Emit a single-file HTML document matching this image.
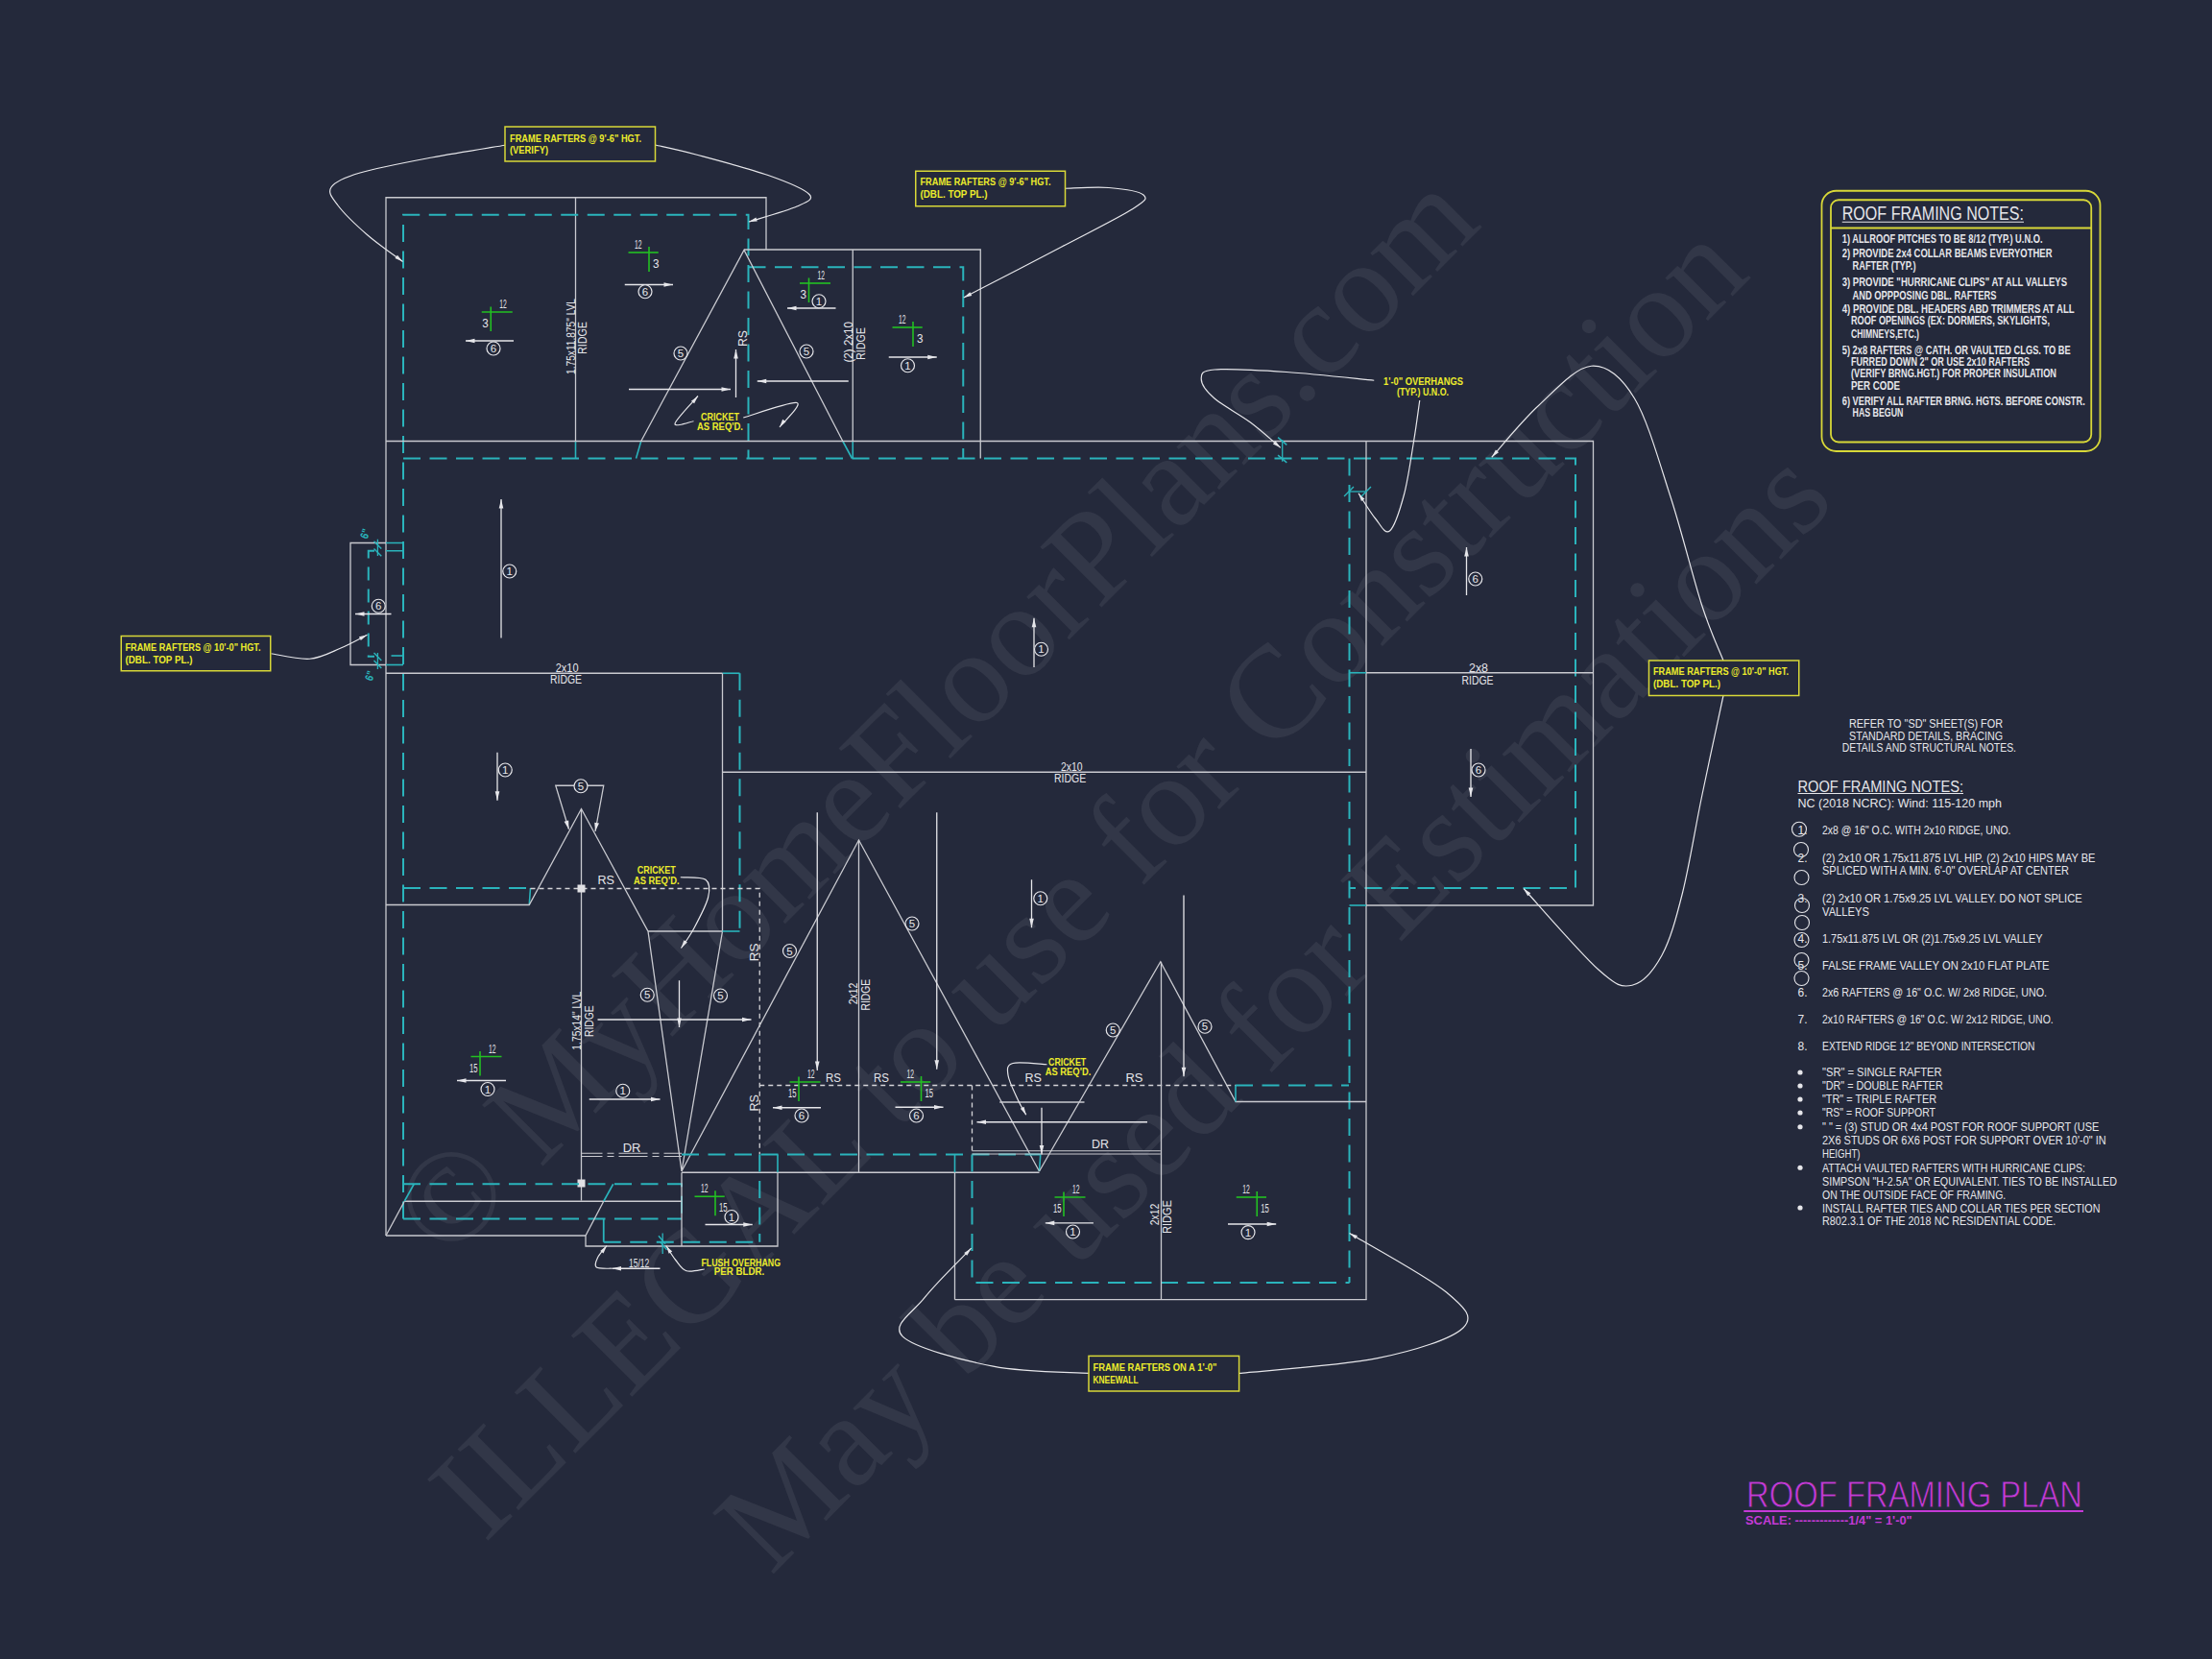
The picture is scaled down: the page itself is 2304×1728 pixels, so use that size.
<!DOCTYPE html><html><head><meta charset="utf-8"><style>html,body{margin:0;padding:0;background:#24293b;overflow:hidden}svg{display:block}text{font-family:"Liberation Sans",sans-serif}.wm{font-family:"Liberation Serif",serif}</style></head><body>
<svg width="2304" height="1728" viewBox="0 0 2304 1728">
<rect width="2304" height="1728" fill="#24293b"/>
<text class="wm" x="465" y="1315" font-size="137" fill="rgba(255,255,255,0.065)" transform="rotate(-45 465 1315)">© MyHomeFloorPlans.com</text>
<text class="wm" x="505" y="1608" font-size="137" fill="rgba(255,255,255,0.065)" transform="rotate(-45 505 1608)">ILLEGAL to use for Construction</text>
<text class="wm" x="803" y="1642" font-size="137" fill="rgba(255,255,255,0.065)" transform="rotate(-45.2 803 1642)">May be used for Estimations</text>
<path d="M402,1287 V205.75 H798 V260" fill="none" stroke="#c9cad0" stroke-width="1.3" />
<line x1="599.5" y1="205.75" x2="599.5" y2="459.5" stroke="#c9cad0" stroke-width="1.3" />
<line x1="599.5" y1="459.5" x2="599.5" y2="477.5" stroke="#2ab4bc" stroke-width="1.6" />
<path d="M420,1269.5 V223.75 H779.5 V477.5" fill="none" stroke="#2ab4bc" stroke-width="2.0" stroke-dasharray="18 9.5"/>
<path d="M775,260 H1021.25 V477.5" fill="none" stroke="#c9cad0" stroke-width="1.3" />
<line x1="888.25" y1="260" x2="888.25" y2="459.5" stroke="#c9cad0" stroke-width="1.3" />
<line x1="888.25" y1="459.5" x2="888.25" y2="477.5" stroke="#2ab4bc" stroke-width="1.6" />
<path d="M779.5,278.25 H1003.25 V477.5" fill="none" stroke="#2ab4bc" stroke-width="2.0" stroke-dasharray="18 9.5"/>
<path d="M667.75,459.5 L775,260.5 L877.8,459.5" fill="none" stroke="#c9cad0" stroke-width="1.3" />
<line x1="667.75" y1="459.5" x2="662.5" y2="477.5" stroke="#2ab4bc" stroke-width="1.6" />
<line x1="877.8" y1="459.5" x2="887.5" y2="477.5" stroke="#2ab4bc" stroke-width="1.6" />
<path d="M402,459.5 H1659.5 V943 H1423" fill="none" stroke="#c9cad0" stroke-width="1.3" />
<path d="M420,477.5 H1641 V925 H1405.5" fill="none" stroke="#2ab4bc" stroke-width="2.0" stroke-dasharray="18 9.5"/>
<path d="M1405.5,477.5 V1336" fill="none" stroke="#2ab4bc" stroke-width="2.0" stroke-dasharray="18 9.5"/>
<line x1="1423" y1="459.5" x2="1423" y2="1353.7" stroke="#c9cad0" stroke-width="1.3" />
<line x1="1405.5" y1="943" x2="1423" y2="943" stroke="#2ab4bc" stroke-width="1.6" />
<line x1="1423" y1="700.75" x2="1659.5" y2="700.75" stroke="#c9cad0" stroke-width="1.3" />
<line x1="1405.5" y1="700.75" x2="1423" y2="700.75" stroke="#2ab4bc" stroke-width="1.6" />
<path d="M402,565.5 H365 V692.5 H402" fill="none" stroke="#c9cad0" stroke-width="1.3" />
<path d="M402,565.5 H420 V573.75 H402" fill="none" stroke="#2ab4bc" stroke-width="1.6" />
<path d="M407.5,683 H420" fill="none" stroke="#2ab4bc" stroke-width="1.6" />
<path d="M402,692.5 H420" fill="none" stroke="#2ab4bc" stroke-width="1.6" />
<path d="M390,573.75 H383.75 V683.75 H390" fill="none" stroke="#2ab4bc" stroke-width="2" stroke-dasharray="14 9"/>
<line x1="402" y1="701.25" x2="752.5" y2="701.25" stroke="#c9cad0" stroke-width="1.3" />
<line x1="752.5" y1="701.25" x2="770.5" y2="701.25" stroke="#2ab4bc" stroke-width="1.6" />
<line x1="752.5" y1="701.25" x2="752.5" y2="970" stroke="#c9cad0" stroke-width="1.3" />
<path d="M770.5,701.25 V970" fill="none" stroke="#2ab4bc" stroke-width="2.0" stroke-dasharray="18 9.5"/>
<line x1="752.5" y1="804.25" x2="1423" y2="804.25" stroke="#c9cad0" stroke-width="1.3" />
<path d="M420,925 H552.5" fill="none" stroke="#2ab4bc" stroke-width="2.0" stroke-dasharray="18 9.5"/>
<line x1="552.5" y1="925" x2="551.25" y2="942.5" stroke="#2ab4bc" stroke-width="1.6" />
<path d="M402,942.5 H551.25 L605.5,842.5 L675,970 H752.5 L710,1220 L675,970" fill="none" stroke="#c9cad0" stroke-width="1.3" />
<line x1="752.5" y1="970" x2="770.5" y2="970" stroke="#2ab4bc" stroke-width="1.6" />
<line x1="605.5" y1="842.5" x2="605.5" y2="1250.5" stroke="#c9cad0" stroke-width="1.3" />
<path d="M552.5,925.5 H791.25 V1202.5" fill="none" stroke="#d4d4d8" stroke-width="1.3" stroke-dasharray="5 4"/>
<rect x="601.5" y="921.5" width="8" height="8" fill="#e0e0e4"/>
<rect x="601.5" y="1228.5" width="8" height="8" fill="#e0e0e4"/>
<path d="M592.5,863.75 L578.75,818.25 H628.75 L620,866" fill="none" stroke="#c9cad0" stroke-width="1.3" />
<path d="M592.50,863.75 L587.60,855.83 L592.19,854.44Z" fill="#e6e6ea"/>
<path d="M620.00,866.00 L619.26,856.71 L623.98,857.58Z" fill="#e6e6ea"/>
<path d="M710,1220 L894.5,875 L1082.5,1220" fill="none" stroke="#c9cad0" stroke-width="1.3" />
<line x1="894.5" y1="875" x2="894.5" y2="1221.25" stroke="#c9cad0" stroke-width="1.3" />
<line x1="710" y1="1221.25" x2="1082.5" y2="1221.25" stroke="#c9cad0" stroke-width="1.3" />
<path d="M710,1202.5 H1083.75" fill="none" stroke="#2ab4bc" stroke-width="2.0" stroke-dasharray="18 9.5"/>
<line x1="1083.75" y1="1202.5" x2="1082.5" y2="1220" stroke="#2ab4bc" stroke-width="1.6" />
<path d="M791.25,1202.5 V1293.75" fill="none" stroke="#2ab4bc" stroke-width="2.0" stroke-dasharray="18 9.5"/>
<line x1="810" y1="1202.5" x2="810" y2="1221.25" stroke="#2ab4bc" stroke-width="1.6" />
<path d="M810,1221.25 V1298 H610 V1287" fill="none" stroke="#c9cad0" stroke-width="1.3" />
<line x1="994.5" y1="1202.5" x2="994.5" y2="1221.25" stroke="#2ab4bc" stroke-width="1.6" />
<line x1="994.5" y1="1221.25" x2="994.5" y2="1353.7" stroke="#c9cad0" stroke-width="1.3" />
<path d="M1012.5,1202.5 V1336 H1405.6" fill="none" stroke="#2ab4bc" stroke-width="2.0" stroke-dasharray="18 9.5"/>
<path d="M994.5,1353.7 H1423.6" fill="none" stroke="#c9cad0" stroke-width="1.3" />
<path d="M791.25,1130.5 H1287" fill="none" stroke="#d4d4d8" stroke-width="1.3" stroke-dasharray="5 4"/>
<path d="M1012.5,1130.5 V1202.5" fill="none" stroke="#d4d4d8" stroke-width="1.3" stroke-dasharray="5 4"/>
<line x1="1041.25" y1="1148" x2="1129.5" y2="1148" stroke="#c9cad0" stroke-width="1.3" />
<path d="M1082.5,1220 L1208.75,1001.75 L1287,1147.5 H1423" fill="none" stroke="#c9cad0" stroke-width="1.3" />
<line x1="1209.5" y1="1001.75" x2="1209.5" y2="1353.7" stroke="#c9cad0" stroke-width="1.3" />
<path d="M1287,1130.5 H1405" fill="none" stroke="#2ab4bc" stroke-width="2.0" stroke-dasharray="18 9.5"/>
<line x1="1287" y1="1130.5" x2="1287" y2="1147.5" stroke="#2ab4bc" stroke-width="1.6" />
<path d="M605.5,1201.25 H710 M605.5,1204.5 H710" stroke="#c9cad0" stroke-width="1.1" stroke-dasharray="22 5 7 5 30 5 7 5 30"/>
<path d="M1012.5,1198.75 H1208.75 M1012.5,1202 H1208.75" fill="none" stroke="#c9cad0" stroke-width="1.1" />
<path d="M420,1233.25 H710 V1269.5" fill="none" stroke="#2ab4bc" stroke-width="2.0" stroke-dasharray="18 9.5"/>
<line x1="421.25" y1="1251.25" x2="710" y2="1251.25" stroke="#c9cad0" stroke-width="1.3" />
<path d="M420,1269.5 H710" fill="none" stroke="#2ab4bc" stroke-width="2.0" stroke-dasharray="18 9.5"/>
<line x1="431.25" y1="1233.25" x2="421.25" y2="1251.25" stroke="#2ab4bc" stroke-width="1.6" />
<line x1="421.25" y1="1251.25" x2="402" y2="1287" stroke="#c9cad0" stroke-width="1.3" />
<line x1="402" y1="1287" x2="610" y2="1287" stroke="#c9cad0" stroke-width="1.3" />
<line x1="638.75" y1="1233.25" x2="628.75" y2="1251.25" stroke="#2ab4bc" stroke-width="1.6" />
<line x1="628.75" y1="1251.25" x2="610" y2="1287" stroke="#c9cad0" stroke-width="1.3" />
<path d="M628.75,1269.5 V1293.75" fill="none" stroke="#2ab4bc" stroke-width="1.8" />
<path d="M628.75,1293.75 H791.25" fill="none" stroke="#2ab4bc" stroke-width="2.0" stroke-dasharray="18 9.5"/>
<line x1="710" y1="1221.25" x2="710" y2="1298" stroke="#c9cad0" stroke-width="1.3" />
<line x1="501.75" y1="325" x2="533.75" y2="325" stroke="#22c022" stroke-width="1.6" />
<line x1="511.25" y1="319.5" x2="511.25" y2="345" stroke="#22c022" stroke-width="1.6" />
<text x="520.25" y="321" font-size="12.5" fill="#e6e6ea" text-anchor="start" font-weight="normal" textLength="7.5" lengthAdjust="spacingAndGlyphs" >12</text>
<text x="508.75" y="341" font-size="12.5" fill="#e6e6ea" text-anchor="end" font-weight="normal" textLength="6.5" lengthAdjust="spacingAndGlyphs" >3</text>
<line x1="654.5" y1="263" x2="685.75" y2="263" stroke="#22c022" stroke-width="1.6" />
<line x1="676" y1="257" x2="676" y2="283" stroke="#22c022" stroke-width="1.6" />
<text x="661" y="259" font-size="12.5" fill="#e6e6ea" text-anchor="start" font-weight="normal" textLength="7.5" lengthAdjust="spacingAndGlyphs" >12</text>
<text x="680" y="279" font-size="12.5" fill="#e6e6ea" text-anchor="start" font-weight="normal" textLength="6.5" lengthAdjust="spacingAndGlyphs" >3</text>
<line x1="833.0" y1="295" x2="865.0" y2="295" stroke="#22c022" stroke-width="1.6" />
<line x1="842.5" y1="289.5" x2="842.5" y2="315" stroke="#22c022" stroke-width="1.6" />
<text x="851.5" y="291" font-size="12.5" fill="#e6e6ea" text-anchor="start" font-weight="normal" textLength="7.5" lengthAdjust="spacingAndGlyphs" >12</text>
<text x="840.0" y="311" font-size="12.5" fill="#e6e6ea" text-anchor="end" font-weight="normal" textLength="6.5" lengthAdjust="spacingAndGlyphs" >3</text>
<line x1="929.5" y1="341" x2="960.75" y2="341" stroke="#22c022" stroke-width="1.6" />
<line x1="951" y1="335" x2="951" y2="361" stroke="#22c022" stroke-width="1.6" />
<text x="936" y="337" font-size="12.5" fill="#e6e6ea" text-anchor="start" font-weight="normal" textLength="7.5" lengthAdjust="spacingAndGlyphs" >12</text>
<text x="955" y="357" font-size="12.5" fill="#e6e6ea" text-anchor="start" font-weight="normal" textLength="6.5" lengthAdjust="spacingAndGlyphs" >3</text>
<line x1="490.5" y1="1100.5" x2="522.5" y2="1100.5" stroke="#22c022" stroke-width="1.6" />
<line x1="500" y1="1095.0" x2="500" y2="1120.5" stroke="#22c022" stroke-width="1.6" />
<text x="509" y="1096.5" font-size="12.5" fill="#e6e6ea" text-anchor="start" font-weight="normal" textLength="7.5" lengthAdjust="spacingAndGlyphs" >12</text>
<text x="497.5" y="1116.5" font-size="12.5" fill="#e6e6ea" text-anchor="end" font-weight="normal" textLength="8.5" lengthAdjust="spacingAndGlyphs" >15</text>
<line x1="822.5" y1="1127" x2="854.5" y2="1127" stroke="#22c022" stroke-width="1.6" />
<line x1="832" y1="1121.5" x2="832" y2="1147" stroke="#22c022" stroke-width="1.6" />
<text x="841" y="1123" font-size="12.5" fill="#e6e6ea" text-anchor="start" font-weight="normal" textLength="7.5" lengthAdjust="spacingAndGlyphs" >12</text>
<text x="829.5" y="1143" font-size="12.5" fill="#e6e6ea" text-anchor="end" font-weight="normal" textLength="8.5" lengthAdjust="spacingAndGlyphs" >15</text>
<line x1="938.0" y1="1127" x2="969.25" y2="1127" stroke="#22c022" stroke-width="1.6" />
<line x1="959.5" y1="1121" x2="959.5" y2="1147" stroke="#22c022" stroke-width="1.6" />
<text x="944.5" y="1123" font-size="12.5" fill="#e6e6ea" text-anchor="start" font-weight="normal" textLength="7.5" lengthAdjust="spacingAndGlyphs" >12</text>
<text x="963.5" y="1143" font-size="12.5" fill="#e6e6ea" text-anchor="start" font-weight="normal" textLength="8.5" lengthAdjust="spacingAndGlyphs" >15</text>
<line x1="723.5" y1="1246.25" x2="754.75" y2="1246.25" stroke="#22c022" stroke-width="1.6" />
<line x1="745" y1="1240.25" x2="745" y2="1266.25" stroke="#22c022" stroke-width="1.6" />
<text x="730" y="1242.25" font-size="12.5" fill="#e6e6ea" text-anchor="start" font-weight="normal" textLength="7.5" lengthAdjust="spacingAndGlyphs" >12</text>
<text x="749" y="1262.25" font-size="12.5" fill="#e6e6ea" text-anchor="start" font-weight="normal" textLength="8.5" lengthAdjust="spacingAndGlyphs" >15</text>
<line x1="1098.5" y1="1247" x2="1130.5" y2="1247" stroke="#22c022" stroke-width="1.6" />
<line x1="1108" y1="1241.5" x2="1108" y2="1267" stroke="#22c022" stroke-width="1.6" />
<text x="1117" y="1243" font-size="12.5" fill="#e6e6ea" text-anchor="start" font-weight="normal" textLength="7.5" lengthAdjust="spacingAndGlyphs" >12</text>
<text x="1105.5" y="1263" font-size="12.5" fill="#e6e6ea" text-anchor="end" font-weight="normal" textLength="8.5" lengthAdjust="spacingAndGlyphs" >15</text>
<line x1="1287.75" y1="1247" x2="1319.0" y2="1247" stroke="#22c022" stroke-width="1.6" />
<line x1="1309.25" y1="1241" x2="1309.25" y2="1267" stroke="#22c022" stroke-width="1.6" />
<text x="1294.25" y="1243" font-size="12.5" fill="#e6e6ea" text-anchor="start" font-weight="normal" textLength="7.5" lengthAdjust="spacingAndGlyphs" >12</text>
<text x="1313.25" y="1263" font-size="12.5" fill="#e6e6ea" text-anchor="start" font-weight="normal" textLength="8.5" lengthAdjust="spacingAndGlyphs" >15</text>
<line x1="535" y1="355" x2="485" y2="355" stroke="#e6e6ea" stroke-width="1.3" />
<path d="M485.00,355.00 L494.50,352.70 L494.50,357.30Z" fill="#e6e6ea"/>
<line x1="650.75" y1="296.5" x2="701" y2="296.5" stroke="#e6e6ea" stroke-width="1.3" />
<path d="M701.00,296.50 L691.50,298.80 L691.50,294.20Z" fill="#e6e6ea"/>
<line x1="870.5" y1="321" x2="820" y2="321" stroke="#e6e6ea" stroke-width="1.3" />
<path d="M820.00,321.00 L829.50,318.70 L829.50,323.30Z" fill="#e6e6ea"/>
<line x1="925.75" y1="372" x2="975.75" y2="372" stroke="#e6e6ea" stroke-width="1.3" />
<path d="M975.75,372.00 L966.25,374.30 L966.25,369.70Z" fill="#e6e6ea"/>
<line x1="766.5" y1="414" x2="766.5" y2="364" stroke="#e6e6ea" stroke-width="1.3" />
<path d="M766.50,364.00 L768.80,373.50 L764.20,373.50Z" fill="#e6e6ea"/>
<line x1="655" y1="405.5" x2="761" y2="405.5" stroke="#e6e6ea" stroke-width="1.3" />
<path d="M761.00,405.50 L751.50,407.80 L751.50,403.20Z" fill="#e6e6ea"/>
<line x1="883.75" y1="397" x2="788.75" y2="397" stroke="#e6e6ea" stroke-width="1.3" />
<path d="M788.75,397.00 L798.25,394.70 L798.25,399.30Z" fill="#e6e6ea"/>
<line x1="522" y1="664.5" x2="522" y2="520" stroke="#e6e6ea" stroke-width="1.3" />
<path d="M522.00,520.00 L524.30,529.50 L519.70,529.50Z" fill="#e6e6ea"/>
<line x1="407.5" y1="639.5" x2="370" y2="639.5" stroke="#e6e6ea" stroke-width="1.3" />
<path d="M370.00,639.50 L379.50,637.20 L379.50,641.80Z" fill="#e6e6ea"/>
<line x1="518" y1="783.75" x2="518" y2="833.75" stroke="#e6e6ea" stroke-width="1.3" />
<path d="M518.00,833.75 L515.70,824.25 L520.30,824.25Z" fill="#e6e6ea"/>
<line x1="1077" y1="695" x2="1077" y2="643.75" stroke="#e6e6ea" stroke-width="1.3" />
<path d="M1077.00,643.75 L1079.30,653.25 L1074.70,653.25Z" fill="#e6e6ea"/>
<line x1="1527.5" y1="620" x2="1527.5" y2="570" stroke="#e6e6ea" stroke-width="1.3" />
<path d="M1527.50,570.00 L1529.80,579.50 L1525.20,579.50Z" fill="#e6e6ea"/>
<line x1="1532" y1="780" x2="1532" y2="830" stroke="#e6e6ea" stroke-width="1.3" />
<path d="M1532.00,830.00 L1529.70,820.50 L1534.30,820.50Z" fill="#e6e6ea"/>
<line x1="707.5" y1="1021.25" x2="707.5" y2="1070" stroke="#e6e6ea" stroke-width="1.3" />
<path d="M707.50,1070.00 L705.20,1060.50 L709.80,1060.50Z" fill="#e6e6ea"/>
<line x1="622.5" y1="1062" x2="782.5" y2="1062" stroke="#e6e6ea" stroke-width="1.3" />
<path d="M782.50,1062.00 L773.00,1064.30 L773.00,1059.70Z" fill="#e6e6ea"/>
<line x1="527" y1="1125.5" x2="476" y2="1125.5" stroke="#e6e6ea" stroke-width="1.3" />
<path d="M476.00,1125.50 L485.50,1123.20 L485.50,1127.80Z" fill="#e6e6ea"/>
<line x1="613.75" y1="1145" x2="687.5" y2="1145" stroke="#e6e6ea" stroke-width="1.3" />
<path d="M687.50,1145.00 L678.00,1147.30 L678.00,1142.70Z" fill="#e6e6ea"/>
<line x1="851.25" y1="846.25" x2="851.25" y2="1115" stroke="#e6e6ea" stroke-width="1.3" />
<path d="M851.25,1115.00 L848.95,1105.50 L853.55,1105.50Z" fill="#e6e6ea"/>
<line x1="975.75" y1="846.25" x2="975.75" y2="1113.75" stroke="#e6e6ea" stroke-width="1.3" />
<path d="M975.75,1113.75 L973.45,1104.25 L978.05,1104.25Z" fill="#e6e6ea"/>
<line x1="855" y1="1153.75" x2="805" y2="1153.75" stroke="#e6e6ea" stroke-width="1.3" />
<path d="M805.00,1153.75 L814.50,1151.45 L814.50,1156.05Z" fill="#e6e6ea"/>
<line x1="932.5" y1="1153.25" x2="982.5" y2="1153.25" stroke="#e6e6ea" stroke-width="1.3" />
<path d="M982.50,1153.25 L973.00,1155.55 L973.00,1150.95Z" fill="#e6e6ea"/>
<line x1="1074.5" y1="916.25" x2="1074.5" y2="966.25" stroke="#e6e6ea" stroke-width="1.3" />
<path d="M1074.50,966.25 L1072.20,956.75 L1076.80,956.75Z" fill="#e6e6ea"/>
<line x1="1233" y1="932.5" x2="1233" y2="1121.25" stroke="#e6e6ea" stroke-width="1.3" />
<path d="M1233.00,1121.25 L1230.70,1111.75 L1235.30,1111.75Z" fill="#e6e6ea"/>
<line x1="1195" y1="1168.75" x2="1017.5" y2="1168.75" stroke="#e6e6ea" stroke-width="1.3" />
<path d="M1017.50,1168.75 L1027.00,1166.45 L1027.00,1171.05Z" fill="#e6e6ea"/>
<line x1="1085" y1="1153.75" x2="1085" y2="1202.5" stroke="#e6e6ea" stroke-width="1.3" />
<path d="M1085.00,1202.50 L1082.70,1193.00 L1087.30,1193.00Z" fill="#e6e6ea"/>
<line x1="734.5" y1="1275.5" x2="783.75" y2="1275.5" stroke="#e6e6ea" stroke-width="1.3" />
<path d="M783.75,1275.50 L774.25,1277.80 L774.25,1273.20Z" fill="#e6e6ea"/>
<line x1="687.5" y1="1321.25" x2="637.5" y2="1321.25" stroke="#e6e6ea" stroke-width="1.3" />
<path d="M637.50,1321.25 L647.00,1318.95 L647.00,1323.55Z" fill="#e6e6ea"/>
<line x1="1138.9" y1="1273.9" x2="1088.8" y2="1273.9" stroke="#e6e6ea" stroke-width="1.3" />
<path d="M1088.80,1273.90 L1098.30,1271.60 L1098.30,1276.20Z" fill="#e6e6ea"/>
<line x1="1279" y1="1275" x2="1329.2" y2="1275" stroke="#e6e6ea" stroke-width="1.3" />
<path d="M1329.20,1275.00 L1319.70,1277.30 L1319.70,1272.70Z" fill="#e6e6ea"/>
<circle cx="514" cy="363" r="7" fill="#24293b" stroke="#e6e6ea" stroke-width="1.2"/>
<text x="514" y="367.2" font-size="11.5" fill="#e6e6ea" text-anchor="middle" font-weight="normal" >6</text>
<circle cx="672" cy="303.75" r="7" fill="#24293b" stroke="#e6e6ea" stroke-width="1.2"/>
<text x="672" y="307.95" font-size="11.5" fill="#e6e6ea" text-anchor="middle" font-weight="normal" >6</text>
<circle cx="853" cy="313.75" r="7" fill="#24293b" stroke="#e6e6ea" stroke-width="1.2"/>
<text x="853" y="317.95" font-size="11.5" fill="#e6e6ea" text-anchor="middle" font-weight="normal" >1</text>
<circle cx="945.5" cy="380.75" r="7" fill="#24293b" stroke="#e6e6ea" stroke-width="1.2"/>
<text x="945.5" y="384.95" font-size="11.5" fill="#e6e6ea" text-anchor="middle" font-weight="normal" >1</text>
<circle cx="530.75" cy="595" r="7" fill="#24293b" stroke="#e6e6ea" stroke-width="1.2"/>
<text x="530.75" y="599.2" font-size="11.5" fill="#e6e6ea" text-anchor="middle" font-weight="normal" >1</text>
<circle cx="394.25" cy="631.25" r="7" fill="#24293b" stroke="#e6e6ea" stroke-width="1.2"/>
<text x="394.25" y="635.45" font-size="11.5" fill="#e6e6ea" text-anchor="middle" font-weight="normal" >6</text>
<circle cx="526.25" cy="802" r="7" fill="#24293b" stroke="#e6e6ea" stroke-width="1.2"/>
<text x="526.25" y="806.2" font-size="11.5" fill="#e6e6ea" text-anchor="middle" font-weight="normal" >1</text>
<circle cx="1084.5" cy="676.25" r="7" fill="#24293b" stroke="#e6e6ea" stroke-width="1.2"/>
<text x="1084.5" y="680.45" font-size="11.5" fill="#e6e6ea" text-anchor="middle" font-weight="normal" >1</text>
<circle cx="1536.75" cy="603" r="7" fill="#24293b" stroke="#e6e6ea" stroke-width="1.2"/>
<text x="1536.75" y="607.2" font-size="11.5" fill="#e6e6ea" text-anchor="middle" font-weight="normal" >6</text>
<circle cx="1540" cy="802" r="7" fill="#24293b" stroke="#e6e6ea" stroke-width="1.2"/>
<text x="1540" y="806.2" font-size="11.5" fill="#e6e6ea" text-anchor="middle" font-weight="normal" >6</text>
<circle cx="508" cy="1134.5" r="7" fill="#24293b" stroke="#e6e6ea" stroke-width="1.2"/>
<text x="508" y="1138.7" font-size="11.5" fill="#e6e6ea" text-anchor="middle" font-weight="normal" >1</text>
<circle cx="648.75" cy="1136.25" r="7" fill="#24293b" stroke="#e6e6ea" stroke-width="1.2"/>
<text x="648.75" y="1140.45" font-size="11.5" fill="#e6e6ea" text-anchor="middle" font-weight="normal" >1</text>
<circle cx="835" cy="1162" r="7" fill="#24293b" stroke="#e6e6ea" stroke-width="1.2"/>
<text x="835" y="1166.2" font-size="11.5" fill="#e6e6ea" text-anchor="middle" font-weight="normal" >6</text>
<circle cx="954.5" cy="1162" r="7" fill="#24293b" stroke="#e6e6ea" stroke-width="1.2"/>
<text x="954.5" y="1166.2" font-size="11.5" fill="#e6e6ea" text-anchor="middle" font-weight="normal" >6</text>
<circle cx="1083.75" cy="935.75" r="7" fill="#24293b" stroke="#e6e6ea" stroke-width="1.2"/>
<text x="1083.75" y="939.95" font-size="11.5" fill="#e6e6ea" text-anchor="middle" font-weight="normal" >1</text>
<circle cx="762" cy="1267.5" r="7" fill="#24293b" stroke="#e6e6ea" stroke-width="1.2"/>
<text x="762" y="1271.7" font-size="11.5" fill="#e6e6ea" text-anchor="middle" font-weight="normal" >1</text>
<circle cx="1117.5" cy="1283" r="7" fill="#24293b" stroke="#e6e6ea" stroke-width="1.2"/>
<text x="1117.5" y="1287.2" font-size="11.5" fill="#e6e6ea" text-anchor="middle" font-weight="normal" >1</text>
<circle cx="1300" cy="1283.6" r="7" fill="#24293b" stroke="#e6e6ea" stroke-width="1.2"/>
<text x="1300" y="1287.8" font-size="11.5" fill="#e6e6ea" text-anchor="middle" font-weight="normal" >1</text>
<circle cx="709" cy="368" r="7" fill="#24293b" stroke="#e6e6ea" stroke-width="1.2"/>
<text x="709" y="372.2" font-size="11.5" fill="#e6e6ea" text-anchor="middle" font-weight="normal" >5</text>
<circle cx="840" cy="366" r="7" fill="#24293b" stroke="#e6e6ea" stroke-width="1.2"/>
<text x="840" y="370.2" font-size="11.5" fill="#e6e6ea" text-anchor="middle" font-weight="normal" >5</text>
<circle cx="605" cy="818.75" r="7" fill="#24293b" stroke="#e6e6ea" stroke-width="1.2"/>
<text x="605" y="822.95" font-size="11.5" fill="#e6e6ea" text-anchor="middle" font-weight="normal" >5</text>
<circle cx="674.25" cy="1036.25" r="7" fill="#24293b" stroke="#e6e6ea" stroke-width="1.2"/>
<text x="674.25" y="1040.45" font-size="11.5" fill="#e6e6ea" text-anchor="middle" font-weight="normal" >5</text>
<circle cx="750.5" cy="1037" r="7" fill="#24293b" stroke="#e6e6ea" stroke-width="1.2"/>
<text x="750.5" y="1041.2" font-size="11.5" fill="#e6e6ea" text-anchor="middle" font-weight="normal" >5</text>
<circle cx="822.5" cy="990.5" r="7" fill="#24293b" stroke="#e6e6ea" stroke-width="1.2"/>
<text x="822.5" y="994.7" font-size="11.5" fill="#e6e6ea" text-anchor="middle" font-weight="normal" >5</text>
<circle cx="950" cy="962" r="7" fill="#24293b" stroke="#e6e6ea" stroke-width="1.2"/>
<text x="950" y="966.2" font-size="11.5" fill="#e6e6ea" text-anchor="middle" font-weight="normal" >5</text>
<circle cx="1159.25" cy="1073" r="7" fill="#24293b" stroke="#e6e6ea" stroke-width="1.2"/>
<text x="1159.25" y="1077.2" font-size="11.5" fill="#e6e6ea" text-anchor="middle" font-weight="normal" >5</text>
<circle cx="1255" cy="1069.25" r="7" fill="#24293b" stroke="#e6e6ea" stroke-width="1.2"/>
<text x="1255" y="1073.45" font-size="11.5" fill="#e6e6ea" text-anchor="middle" font-weight="normal" >5</text>
<text x="599" y="390" font-size="12.5" fill="#e6e6ea" text-anchor="start" font-weight="normal" textLength="79" lengthAdjust="spacingAndGlyphs" transform="rotate(-90 599 390)" >1.75x11.875&quot; LVL</text>
<text x="611" y="369" font-size="12.5" fill="#e6e6ea" text-anchor="start" font-weight="normal" textLength="34" lengthAdjust="spacingAndGlyphs" transform="rotate(-90 611 369)" >RIDGE</text>
<text x="777.5" y="361" font-size="12.5" fill="#e6e6ea" text-anchor="start" font-weight="normal" textLength="17" lengthAdjust="spacingAndGlyphs" transform="rotate(-90 777.5 361)" >RS</text>
<text x="888" y="377.5" font-size="12.5" fill="#e6e6ea" text-anchor="start" font-weight="normal" textLength="42.5" lengthAdjust="spacingAndGlyphs" transform="rotate(-90 888 377.5)" >(2) 2x10</text>
<text x="900.5" y="375" font-size="12.5" fill="#e6e6ea" text-anchor="start" font-weight="normal" textLength="34" lengthAdjust="spacingAndGlyphs" transform="rotate(-90 900.5 375)" >RIDGE</text>
<text x="604.5" y="1093.75" font-size="12.5" fill="#e6e6ea" text-anchor="start" font-weight="normal" textLength="61" lengthAdjust="spacingAndGlyphs" transform="rotate(-90 604.5 1093.75)" >1.75x14&quot; LVL</text>
<text x="617.5" y="1080" font-size="12.5" fill="#e6e6ea" text-anchor="start" font-weight="normal" textLength="32.5" lengthAdjust="spacingAndGlyphs" transform="rotate(-90 617.5 1080)" >RIDGE</text>
<text x="790" y="1001.25" font-size="12.5" fill="#e6e6ea" text-anchor="start" font-weight="normal" textLength="18.75" lengthAdjust="spacingAndGlyphs" transform="rotate(-90 790 1001.25)" >RS</text>
<text x="892.5" y="1046.25" font-size="12.5" fill="#e6e6ea" text-anchor="start" font-weight="normal" textLength="22.5" lengthAdjust="spacingAndGlyphs" transform="rotate(-90 892.5 1046.25)" >2x12</text>
<text x="905.5" y="1052.5" font-size="12.5" fill="#e6e6ea" text-anchor="start" font-weight="normal" textLength="32.5" lengthAdjust="spacingAndGlyphs" transform="rotate(-90 905.5 1052.5)" >RIDGE</text>
<text x="789.5" y="1157.5" font-size="12.5" fill="#e6e6ea" text-anchor="start" font-weight="normal" textLength="17.5" lengthAdjust="spacingAndGlyphs" transform="rotate(-90 789.5 1157.5)" >RS</text>
<text x="1207" y="1276.25" font-size="12.5" fill="#e6e6ea" text-anchor="start" font-weight="normal" textLength="22.5" lengthAdjust="spacingAndGlyphs" transform="rotate(-90 1207 1276.25)" >2x12</text>
<text x="1219.5" y="1285" font-size="12.5" fill="#e6e6ea" text-anchor="start" font-weight="normal" textLength="35" lengthAdjust="spacingAndGlyphs" transform="rotate(-90 1219.5 1285)" >RIDGE</text>
<text x="578.75" y="699.5" font-size="12.5" fill="#e6e6ea" text-anchor="start" font-weight="normal" textLength="23.75" lengthAdjust="spacingAndGlyphs" >2x10</text>
<text x="573" y="712" font-size="12.5" fill="#e6e6ea" text-anchor="start" font-weight="normal" textLength="33" lengthAdjust="spacingAndGlyphs" >RIDGE</text>
<text x="1105" y="802.5" font-size="12.5" fill="#e6e6ea" text-anchor="start" font-weight="normal" textLength="22.5" lengthAdjust="spacingAndGlyphs" >2x10</text>
<text x="1098" y="815" font-size="12.5" fill="#e6e6ea" text-anchor="start" font-weight="normal" textLength="33.25" lengthAdjust="spacingAndGlyphs" >RIDGE</text>
<text x="1530" y="700" font-size="12.5" fill="#e6e6ea" text-anchor="start" font-weight="normal" textLength="20" lengthAdjust="spacingAndGlyphs" >2x8</text>
<text x="1522.5" y="712.5" font-size="12.5" fill="#e6e6ea" text-anchor="start" font-weight="normal" textLength="33" lengthAdjust="spacingAndGlyphs" >RIDGE</text>
<text x="622.5" y="921.25" font-size="12.5" fill="#e6e6ea" text-anchor="start" font-weight="normal" textLength="17.5" lengthAdjust="spacingAndGlyphs" >RS</text>
<text x="860" y="1127" font-size="12.5" fill="#e6e6ea" text-anchor="start" font-weight="normal" textLength="16" lengthAdjust="spacingAndGlyphs" >RS</text>
<text x="910" y="1127" font-size="12.5" fill="#e6e6ea" text-anchor="start" font-weight="normal" textLength="16" lengthAdjust="spacingAndGlyphs" >RS</text>
<text x="1067.5" y="1127" font-size="12.5" fill="#e6e6ea" text-anchor="start" font-weight="normal" textLength="17.5" lengthAdjust="spacingAndGlyphs" >RS</text>
<text x="1172.5" y="1127" font-size="12.5" fill="#e6e6ea" text-anchor="start" font-weight="normal" textLength="18" lengthAdjust="spacingAndGlyphs" >RS</text>
<text x="648.75" y="1200" font-size="12.5" fill="#e6e6ea" text-anchor="start" font-weight="normal" textLength="18.75" lengthAdjust="spacingAndGlyphs" >DR</text>
<text x="1137" y="1196.25" font-size="12.5" fill="#e6e6ea" text-anchor="start" font-weight="normal" textLength="18" lengthAdjust="spacingAndGlyphs" >DR</text>
<text x="655" y="1319.5" font-size="12.5" fill="#e6e6ea" text-anchor="start" font-weight="normal" textLength="21.25" lengthAdjust="spacingAndGlyphs" >15/12</text>
<text x="730" y="437.5" font-size="11.5" fill="#ecec2c" text-anchor="start" font-weight="bold" textLength="40" lengthAdjust="spacingAndGlyphs" >CRICKET</text>
<text x="726" y="447.5" font-size="11.5" fill="#ecec2c" text-anchor="start" font-weight="bold" textLength="48" lengthAdjust="spacingAndGlyphs" >AS REQ'D.</text>
<text x="663.75" y="910" font-size="11.5" fill="#ecec2c" text-anchor="start" font-weight="bold" textLength="40" lengthAdjust="spacingAndGlyphs" >CRICKET</text>
<text x="660" y="920.75" font-size="11.5" fill="#ecec2c" text-anchor="start" font-weight="bold" textLength="47.5" lengthAdjust="spacingAndGlyphs" >AS REQ'D.</text>
<text x="1092" y="1110" font-size="11.5" fill="#ecec2c" text-anchor="start" font-weight="bold" textLength="39.25" lengthAdjust="spacingAndGlyphs" >CRICKET</text>
<text x="1088.75" y="1120" font-size="11.5" fill="#ecec2c" text-anchor="start" font-weight="bold" textLength="47.5" lengthAdjust="spacingAndGlyphs" >AS REQ'D.</text>
<text x="1441" y="401" font-size="11.5" fill="#ecec2c" text-anchor="start" font-weight="bold" textLength="83" lengthAdjust="spacingAndGlyphs" >1'-0&quot; OVERHANGS</text>
<text x="1455" y="412" font-size="11.5" fill="#ecec2c" text-anchor="start" font-weight="bold" textLength="54" lengthAdjust="spacingAndGlyphs" >(TYP.) U.N.O.</text>
<text x="730.5" y="1318.75" font-size="11.5" fill="#ecec2c" text-anchor="start" font-weight="bold" textLength="82.5" lengthAdjust="spacingAndGlyphs" >FLUSH OVERHANG</text>
<text x="743.75" y="1328" font-size="11.5" fill="#ecec2c" text-anchor="start" font-weight="bold" textLength="52.5" lengthAdjust="spacingAndGlyphs" >PER BLDR.</text>
<path d="M526.00,151.25 C513.33,153.38 475.17,159.21 450.00,164.00 C424.83,168.79 392.50,174.83 375.00,180.00 C357.50,185.17 348.83,189.33 345.00,195.00 C341.17,200.67 345.67,205.67 352.00,214.00 C358.33,222.33 371.75,235.25 383.00,245.00 C394.25,254.75 413.42,267.92 419.50,272.50" fill="none" stroke="#e6e6ea" stroke-width="1.2" />
<path d="M419.50,272.50 L411.45,269.06 L413.97,265.71Z" fill="#e6e6ea"/>
<path d="M682.50,151.00 C689.58,152.67 705.42,155.75 725.00,161.00 C744.58,166.25 780.33,175.58 800.00,182.50 C819.67,189.42 838.00,197.08 843.00,202.50 C848.00,207.92 840.50,210.25 830.00,215.00 C819.50,219.75 788.33,228.33 780.00,231.00" fill="none" stroke="#e6e6ea" stroke-width="1.2" />
<path d="M780.00,231.00 L787.46,226.41 L788.74,230.41Z" fill="#e6e6ea"/>
<path d="M1109.50,196.25 C1117.08,196.12 1141.42,194.38 1155.00,195.50 C1168.58,196.62 1186.83,199.33 1191.00,203.00 C1195.17,206.67 1194.33,208.42 1180.00,217.50 C1165.67,226.58 1134.38,242.08 1105.00,257.50 C1075.62,272.92 1020.62,301.25 1003.75,310.00" fill="none" stroke="#e6e6ea" stroke-width="1.2" />
<path d="M1003.75,310.00 L1010.33,304.22 L1012.26,307.95Z" fill="#e6e6ea"/>
<path d="M1431.25,396.25 C1416.04,394.79 1367.71,389.38 1340.00,387.50 C1312.29,385.62 1279.79,383.75 1265.00,385.00 C1250.21,386.25 1251.25,390.00 1251.25,395.00 C1251.25,400.00 1256.46,407.50 1265.00,415.00 C1273.54,422.50 1291.04,431.46 1302.50,440.00 C1313.96,448.54 1328.54,461.88 1333.75,466.25" fill="none" stroke="#e6e6ea" stroke-width="1.2" />
<path d="M1333.75,466.25 L1325.89,462.39 L1328.59,459.17Z" fill="#e6e6ea"/>
<path d="M1478.75,417.00 C1477.71,424.17 1475.21,443.67 1472.50,460.00 C1469.79,476.33 1466.67,499.50 1462.50,515.00 C1458.33,530.50 1452.50,548.83 1447.50,553.00 C1442.50,557.17 1437.92,546.54 1432.50,540.00 C1427.08,533.46 1417.92,518.12 1415.00,513.75" fill="none" stroke="#e6e6ea" stroke-width="1.2" />
<path d="M1415.00,513.75 L1421.46,519.66 L1417.97,521.99Z" fill="#e6e6ea"/>
<path d="M1795.00,688.00 C1791.25,678.33 1781.67,658.42 1772.50,630.00 C1763.33,601.58 1751.67,553.33 1740.00,517.50 C1728.33,481.67 1716.25,437.71 1702.50,415.00 C1688.75,392.29 1674.17,380.00 1657.50,381.25 C1640.83,382.50 1619.79,406.67 1602.50,422.50 C1585.21,438.33 1561.88,467.29 1553.75,476.25" fill="none" stroke="#e6e6ea" stroke-width="1.2" />
<path d="M1553.75,476.25 L1557.90,468.54 L1561.02,471.36Z" fill="#e6e6ea"/>
<path d="M1795.00,724.50 C1791.25,742.08 1779.58,795.75 1772.50,830.00 C1765.42,864.25 1759.42,902.50 1752.50,930.00 C1745.58,957.50 1739.75,978.96 1731.00,995.00 C1722.25,1011.04 1711.00,1023.75 1700.00,1026.25 C1689.00,1028.75 1683.83,1026.79 1665.00,1010.00 C1646.17,993.21 1600.00,939.58 1587.00,925.50" fill="none" stroke="#e6e6ea" stroke-width="1.2" />
<path d="M1587.00,925.50 L1594.31,930.32 L1591.22,933.17Z" fill="#e6e6ea"/>
<path d="M1134.00,1430.40 C1117.42,1429.20 1066.83,1429.63 1034.50,1423.20 C1002.17,1416.77 951.92,1403.72 940.00,1391.80 C928.08,1379.88 951.07,1366.97 963.00,1351.70 C974.93,1336.43 1003.50,1308.78 1011.60,1300.20" fill="none" stroke="#e6e6ea" stroke-width="1.2" />
<path d="M1011.60,1300.20 L1007.29,1307.82 L1004.24,1304.94Z" fill="#e6e6ea"/>
<path d="M1290.60,1430.40 C1314.67,1427.78 1396.13,1422.57 1435.00,1414.70 C1473.87,1406.83 1511.87,1394.65 1523.80,1383.20 C1535.73,1371.75 1526.30,1362.47 1506.60,1346.00 C1486.90,1329.53 1422.43,1294.67 1405.60,1284.40" fill="none" stroke="#e6e6ea" stroke-width="1.2" />
<path d="M1405.60,1284.40 L1413.95,1287.03 L1411.76,1290.62Z" fill="#e6e6ea"/>
<path d="M282.50,680.75 C289.17,681.67 310.42,687.21 322.50,686.25 C334.58,685.29 345.00,679.17 355.00,675.00 C365.00,670.83 377.92,663.54 382.50,661.25" fill="none" stroke="#e6e6ea" stroke-width="1.2" />
<path d="M382.50,661.25 L375.84,666.93 L373.96,663.17Z" fill="#e6e6ea"/>
<path d="M722.50,438.75 C719.25,439.17 702.25,445.62 703.00,441.25 C703.75,436.88 723.00,417.29 727.00,412.50" fill="none" stroke="#e6e6ea" stroke-width="1.2" />
<path d="M727.00,412.50 L723.16,420.37 L719.94,417.68Z" fill="#e6e6ea"/>
<path d="M774.25,435.00 C783.54,432.42 823.71,417.83 830.00,419.50 C836.29,421.17 815.00,440.75 812.00,445.00" fill="none" stroke="#e6e6ea" stroke-width="1.2" />
<path d="M812.00,445.00 L815.19,436.84 L818.62,439.27Z" fill="#e6e6ea"/>
<path d="M708.75,913.75 C713.12,914.17 730.21,912.71 735.00,916.25 C739.79,919.79 739.58,926.46 737.50,935.00 C735.42,943.54 727.17,958.75 722.50,967.50 C717.83,976.25 711.67,984.17 709.50,987.50" fill="none" stroke="#e6e6ea" stroke-width="1.2" />
<path d="M709.50,987.50 L712.37,979.23 L715.89,981.52Z" fill="#e6e6ea"/>
<path d="M1090.50,1108.75 C1084.58,1108.54 1061.75,1105.62 1055.00,1107.50 C1048.25,1109.38 1049.17,1113.75 1050.00,1120.00 C1050.83,1126.25 1056.88,1138.12 1060.00,1145.00 C1063.12,1151.88 1067.29,1158.54 1068.75,1161.25" fill="none" stroke="#e6e6ea" stroke-width="1.2" />
<path d="M1068.75,1161.25 L1062.87,1154.76 L1066.57,1152.77Z" fill="#e6e6ea"/>
<path d="M637.50,1321.25 C634.79,1321.04 623.75,1321.88 621.25,1320.00 C618.75,1318.12 620.71,1313.75 622.50,1310.00 C624.29,1306.25 630.42,1299.58 632.00,1297.50" fill="none" stroke="#e6e6ea" stroke-width="1.2" />
<path d="M632.00,1297.50 L628.53,1305.54 L625.18,1303.00Z" fill="#e6e6ea"/>
<path d="M733.75,1322.00 C730.62,1322.29 720.00,1325.33 715.00,1323.75 C710.00,1322.17 707.29,1316.88 703.75,1312.50 C700.21,1308.12 695.42,1300.00 693.75,1297.50" fill="none" stroke="#e6e6ea" stroke-width="1.2" />
<path d="M693.75,1297.50 L700.21,1303.41 L696.72,1305.74Z" fill="#e6e6ea"/>
<line x1="1335.7" y1="457.9" x2="1335.7" y2="480.7" stroke="#2ab4bc" stroke-width="1.3" />
<line x1="1331.1037333412862" y1="455.6432743418808" x2="1340.2962666587139" y2="463.3567256581192" stroke="#2ab4bc" stroke-width="1.4" />
<line x1="1331.1037333412862" y1="474.1432743418808" x2="1340.2962666587139" y2="481.8567256581192" stroke="#2ab4bc" stroke-width="1.4" />
<line x1="1405" y1="512" x2="1423" y2="512" stroke="#2ab4bc" stroke-width="1.3" />
<line x1="1400.0502525316942" y1="516.9497474683059" x2="1409.9497474683058" y2="507.0502525316942" stroke="#2ab4bc" stroke-width="1.4" />
<line x1="1418.0502525316942" y1="516.9497474683059" x2="1427.9497474683058" y2="507.0502525316942" stroke="#2ab4bc" stroke-width="1.4" />
<line x1="393.4" y1="561.7" x2="393.4" y2="579" stroke="#2ab4bc" stroke-width="1.3" />
<line x1="389.510912703474" y1="563.8109127034741" x2="397.28908729652596" y2="571.589087296526" stroke="#2ab4bc" stroke-width="1.4" />
<line x1="389.510912703474" y1="571.410912703474" x2="397.28908729652596" y2="579.1890872965259" stroke="#2ab4bc" stroke-width="1.4" />
<line x1="393.4" y1="680" x2="393.4" y2="697" stroke="#2ab4bc" stroke-width="1.3" />
<line x1="389.510912703474" y1="680.110912703474" x2="397.28908729652596" y2="687.889087296526" stroke="#2ab4bc" stroke-width="1.4" />
<line x1="389.510912703474" y1="688.110912703474" x2="397.28908729652596" y2="695.889087296526" stroke="#2ab4bc" stroke-width="1.4" />
<line x1="690.2" y1="1284.5" x2="690.2" y2="1306" stroke="#2ab4bc" stroke-width="1.3" />
<line x1="685.9646681467241" y1="1287.2867555628457" x2="693.0353318532759" y2="1295.7132444371543" stroke="#2ab4bc" stroke-width="1.4" />
<line x1="687.4646681467241" y1="1293.2867555628457" x2="694.5353318532759" y2="1301.7132444371543" stroke="#2ab4bc" stroke-width="1.4" />
<text x="382.5" y="562" font-size="12" fill="#2ab4bc" text-anchor="start" font-weight="bold" textLength="10" lengthAdjust="spacingAndGlyphs" transform="rotate(-70 382.5 562)" >6&quot;</text>
<text x="387.5" y="710" font-size="12" fill="#2ab4bc" text-anchor="start" font-weight="bold" textLength="10" lengthAdjust="spacingAndGlyphs" transform="rotate(-70 387.5 710)" >6&quot;</text>
<rect x="526" y="132" width="156.5" height="36" fill="#24293b" stroke="#d8d838" stroke-width="1.5"/>
<text x="531" y="147.5" font-size="11.5" fill="#ecec2c" text-anchor="start" font-weight="bold" textLength="137" lengthAdjust="spacingAndGlyphs" >FRAME RAFTERS @ 9'-6&quot; HGT.</text>
<text x="531" y="160" font-size="11.5" fill="#ecec2c" text-anchor="start" font-weight="bold" textLength="40" lengthAdjust="spacingAndGlyphs" >(VERIFY)</text>
<rect x="953.75" y="178.25" width="155.75" height="36.5" fill="#24293b" stroke="#d8d838" stroke-width="1.5"/>
<text x="958.5" y="193" font-size="11.5" fill="#ecec2c" text-anchor="start" font-weight="bold" textLength="136" lengthAdjust="spacingAndGlyphs" >FRAME RAFTERS @ 9'-6&quot; HGT.</text>
<text x="958.5" y="206" font-size="11.5" fill="#ecec2c" text-anchor="start" font-weight="bold" textLength="70" lengthAdjust="spacingAndGlyphs" >(DBL. TOP PL.)</text>
<rect x="126.25" y="662.5" width="155.5" height="36.25" fill="#24293b" stroke="#d8d838" stroke-width="1.5"/>
<text x="130.5" y="677.5" font-size="11.5" fill="#ecec2c" text-anchor="start" font-weight="bold" textLength="141" lengthAdjust="spacingAndGlyphs" >FRAME RAFTERS @ 10'-0&quot; HGT.</text>
<text x="130.5" y="690.75" font-size="11.5" fill="#ecec2c" text-anchor="start" font-weight="bold" textLength="70" lengthAdjust="spacingAndGlyphs" >(DBL. TOP PL.)</text>
<rect x="1717.5" y="688" width="156.25" height="36.5" fill="#24293b" stroke="#d8d838" stroke-width="1.5"/>
<text x="1722" y="703" font-size="11.5" fill="#ecec2c" text-anchor="start" font-weight="bold" textLength="141" lengthAdjust="spacingAndGlyphs" >FRAME RAFTERS @ 10'-0&quot; HGT.</text>
<text x="1722" y="716" font-size="11.5" fill="#ecec2c" text-anchor="start" font-weight="bold" textLength="70" lengthAdjust="spacingAndGlyphs" >(DBL. TOP PL.)</text>
<rect x="1134" y="1412.4" width="156.5999999999999" height="36.59999999999991" fill="#24293b" stroke="#d8d838" stroke-width="1.5"/>
<text x="1138.5" y="1428.4" font-size="11.5" fill="#ecec2c" text-anchor="start" font-weight="bold" textLength="129" lengthAdjust="spacingAndGlyphs" >FRAME RAFTERS ON A 1'-0&quot;</text>
<text x="1138.5" y="1441" font-size="11.5" fill="#ecec2c" text-anchor="start" font-weight="bold" textLength="47" lengthAdjust="spacingAndGlyphs" >KNEEWALL</text>
<rect x="1897.5" y="198.75" width="290" height="271.25" rx="15" fill="none" stroke="#d8d838" stroke-width="1.8"/>
<rect x="1907" y="208.25" width="271.25" height="252.25" rx="8" fill="none" stroke="#d8d838" stroke-width="1.8"/>
<line x1="1907" y1="237.5" x2="2178.25" y2="237.5" stroke="#d8d838" stroke-width="1.8" />
<text x="1918.75" y="228.75" font-size="19.5" fill="#e6e6ea" text-anchor="start" font-weight="normal" textLength="189.25" lengthAdjust="spacingAndGlyphs" >ROOF FRAMING NOTES:</text>
<line x1="1918.75" y1="231.25" x2="2108" y2="231.25" stroke="#e6e6ea" stroke-width="1.1" />
<text x="1918.75" y="252.5" font-size="12.2" fill="#e6e6ea" text-anchor="start" font-weight="bold" textLength="208.75" lengthAdjust="spacingAndGlyphs" >1) ALLROOF PITCHES TO BE  8/12 (TYP.) U.N.O.</text>
<text x="1918.75" y="267.5" font-size="12.2" fill="#e6e6ea" text-anchor="start" font-weight="bold" textLength="218.75" lengthAdjust="spacingAndGlyphs" >2) PROVIDE 2x4 COLLAR BEAMS EVERYOTHER</text>
<text x="1929.5" y="281" font-size="12.2" fill="#e6e6ea" text-anchor="start" font-weight="bold" textLength="66" lengthAdjust="spacingAndGlyphs" >RAFTER (TYP.)</text>
<text x="1918.75" y="297.5" font-size="12.2" fill="#e6e6ea" text-anchor="start" font-weight="bold" textLength="234.25" lengthAdjust="spacingAndGlyphs" >3) PROVIDE &quot;HURRICANE CLIPS&quot; AT ALL VALLEYS</text>
<text x="1929.5" y="311.75" font-size="12.2" fill="#e6e6ea" text-anchor="start" font-weight="bold" textLength="150" lengthAdjust="spacingAndGlyphs" >AND OPPPOSING DBL. RAFTERS</text>
<text x="1918.75" y="325.75" font-size="12.2" fill="#e6e6ea" text-anchor="start" font-weight="bold" textLength="242" lengthAdjust="spacingAndGlyphs" >4) PROVIDE DBL. HEADERS ABD TRIMMERS AT ALL</text>
<text x="1928" y="338.25" font-size="12.2" fill="#e6e6ea" text-anchor="start" font-weight="bold" textLength="207" lengthAdjust="spacingAndGlyphs" >ROOF OPENINGS (EX: DORMERS, SKYLIGHTS,</text>
<text x="1928" y="351.75" font-size="12.2" fill="#e6e6ea" text-anchor="start" font-weight="bold" textLength="71" lengthAdjust="spacingAndGlyphs" >CHIMNEYS,ETC.)</text>
<text x="1918.75" y="369" font-size="12.2" fill="#e6e6ea" text-anchor="start" font-weight="bold" textLength="238" lengthAdjust="spacingAndGlyphs" >5) 2x8 RAFTERS @ CATH. OR VAULTED CLGS. TO BE</text>
<text x="1928" y="380.5" font-size="12.2" fill="#e6e6ea" text-anchor="start" font-weight="bold" textLength="186" lengthAdjust="spacingAndGlyphs" >FURRED DOWN 2&quot; OR USE 2x10 RAFTERS</text>
<text x="1928" y="392.5" font-size="12.2" fill="#e6e6ea" text-anchor="start" font-weight="bold" textLength="214" lengthAdjust="spacingAndGlyphs" >(VERIFY BRNG.HGT.) FOR PROPER INSULATION</text>
<text x="1928" y="405.75" font-size="12.2" fill="#e6e6ea" text-anchor="start" font-weight="bold" textLength="51" lengthAdjust="spacingAndGlyphs" >PER CODE</text>
<text x="1918.75" y="421.75" font-size="12.2" fill="#e6e6ea" text-anchor="start" font-weight="bold" textLength="253" lengthAdjust="spacingAndGlyphs" >6) VERIFY ALL RAFTER BRNG. HGTS. BEFORE CONSTR.</text>
<text x="1929.5" y="434.25" font-size="12.2" fill="#e6e6ea" text-anchor="start" font-weight="bold" textLength="53" lengthAdjust="spacingAndGlyphs" >HAS BEGUN</text>
<text x="2006" y="758" font-size="12" fill="#e6e6ea" text-anchor="middle" font-weight="normal" textLength="160" lengthAdjust="spacingAndGlyphs" >REFER TO &quot;SD&quot;  SHEET(S) FOR</text>
<text x="2006" y="771" font-size="12" fill="#e6e6ea" text-anchor="middle" font-weight="normal" textLength="160" lengthAdjust="spacingAndGlyphs" >STANDARD DETAILS, BRACING</text>
<text x="2009.4" y="783" font-size="12" fill="#e6e6ea" text-anchor="middle" font-weight="normal" textLength="181.25" lengthAdjust="spacingAndGlyphs" >DETAILS AND STRUCTURAL NOTES.</text>
<text x="1872.5" y="824.5" font-size="16" fill="#e6e6ea" text-anchor="start" font-weight="normal" textLength="172.5" lengthAdjust="spacingAndGlyphs" >ROOF FRAMING NOTES:</text>
<line x1="1872.5" y1="826.5" x2="2045" y2="826.5" stroke="#e6e6ea" stroke-width="1.1" />
<text x="1872.5" y="841" font-size="13" fill="#e6e6ea" text-anchor="start" font-weight="normal" textLength="212.5" lengthAdjust="spacingAndGlyphs" >NC (2018 NCRC): Wind: 115-120 mph</text>
<text x="1898" y="869" font-size="13" fill="#e6e6ea" text-anchor="start" font-weight="normal" textLength="196.5" lengthAdjust="spacingAndGlyphs" >2x8 @ 16&quot; O.C. WITH 2x10 RIDGE, UNO.</text>
<text x="1898" y="897.5" font-size="13" fill="#e6e6ea" text-anchor="start" font-weight="normal" textLength="284.5" lengthAdjust="spacingAndGlyphs" >(2) 2x10 OR 1.75x11.875 LVL HIP. (2) 2x10 HIPS MAY BE</text>
<text x="1898" y="911" font-size="13" fill="#e6e6ea" text-anchor="start" font-weight="normal" textLength="257" lengthAdjust="spacingAndGlyphs" >SPLICED WITH A MIN. 6'-0&quot; OVERLAP AT CENTER</text>
<text x="1898" y="940" font-size="13" fill="#e6e6ea" text-anchor="start" font-weight="normal" textLength="270.75" lengthAdjust="spacingAndGlyphs" >(2) 2x10 OR 1.75x9.25 LVL VALLEY. DO NOT SPLICE</text>
<text x="1898" y="953.75" font-size="13" fill="#e6e6ea" text-anchor="start" font-weight="normal" textLength="49" lengthAdjust="spacingAndGlyphs" >VALLEYS</text>
<text x="1898" y="982" font-size="13" fill="#e6e6ea" text-anchor="start" font-weight="normal" textLength="229.5" lengthAdjust="spacingAndGlyphs" >1.75x11.875 LVL OR (2)1.75x9.25 LVL VALLEY</text>
<text x="1898" y="1010" font-size="13" fill="#e6e6ea" text-anchor="start" font-weight="normal" textLength="236.5" lengthAdjust="spacingAndGlyphs" >FALSE FRAME VALLEY ON 2x10 FLAT PLATE</text>
<text x="1898" y="1038" font-size="13" fill="#e6e6ea" text-anchor="start" font-weight="normal" textLength="234" lengthAdjust="spacingAndGlyphs" >2x6 RAFTERS @ 16&quot; O.C. W/ 2x8 RIDGE, UNO.</text>
<text x="1898" y="1066" font-size="13" fill="#e6e6ea" text-anchor="start" font-weight="normal" textLength="240.75" lengthAdjust="spacingAndGlyphs" >2x10 RAFTERS @ 16&quot; O.C. W/ 2x12 RIDGE, UNO.</text>
<text x="1898" y="1093.75" font-size="13" fill="#e6e6ea" text-anchor="start" font-weight="normal" textLength="221.5" lengthAdjust="spacingAndGlyphs" >EXTEND RIDGE 12&quot; BEYOND INTERSECTION</text>
<text x="1898" y="1121.25" font-size="13" fill="#e6e6ea" text-anchor="start" font-weight="normal" textLength="124.5" lengthAdjust="spacingAndGlyphs" >&quot;SR&quot;   = SINGLE RAFTER</text>
<text x="1898" y="1135" font-size="13" fill="#e6e6ea" text-anchor="start" font-weight="normal" textLength="125.75" lengthAdjust="spacingAndGlyphs" >&quot;DR&quot; = DOUBLE RAFTER</text>
<text x="1898" y="1149" font-size="13" fill="#e6e6ea" text-anchor="start" font-weight="normal" textLength="119" lengthAdjust="spacingAndGlyphs" >&quot;TR&quot; = TRIPLE RAFTER</text>
<text x="1898" y="1163" font-size="13" fill="#e6e6ea" text-anchor="start" font-weight="normal" textLength="118" lengthAdjust="spacingAndGlyphs" >&quot;RS&quot; = ROOF SUPPORT</text>
<text x="1898" y="1178" font-size="13" fill="#e6e6ea" text-anchor="start" font-weight="normal" textLength="288.25" lengthAdjust="spacingAndGlyphs" >&quot;   &quot; = (3) STUD OR 4x4 POST FOR ROOF SUPPORT (USE</text>
<text x="1898" y="1192" font-size="13" fill="#e6e6ea" text-anchor="start" font-weight="normal" textLength="295.75" lengthAdjust="spacingAndGlyphs" >2X6 STUDS OR 6X6 POST FOR SUPPORT OVER 10'-0&quot; IN</text>
<text x="1898" y="1206.25" font-size="13" fill="#e6e6ea" text-anchor="start" font-weight="normal" textLength="39.5" lengthAdjust="spacingAndGlyphs" >HEIGHT)</text>
<text x="1898" y="1220.5" font-size="13" fill="#e6e6ea" text-anchor="start" font-weight="normal" textLength="274" lengthAdjust="spacingAndGlyphs" >ATTACH VAULTED RAFTERS WITH HURRICANE CLIPS:</text>
<text x="1898" y="1235" font-size="13" fill="#e6e6ea" text-anchor="start" font-weight="normal" textLength="307" lengthAdjust="spacingAndGlyphs" >SIMPSON &quot;H-2.5A&quot; OR EQUIVALENT. TIES TO BE INSTALLED</text>
<text x="1898" y="1248.75" font-size="13" fill="#e6e6ea" text-anchor="start" font-weight="normal" textLength="191.25" lengthAdjust="spacingAndGlyphs" >ON THE OUTSIDE FACE OF FRAMING.</text>
<text x="1898" y="1262.5" font-size="13" fill="#e6e6ea" text-anchor="start" font-weight="normal" textLength="289.5" lengthAdjust="spacingAndGlyphs" >INSTALL RAFTER TIES AND COLLAR TIES PER SECTION</text>
<text x="1898" y="1276.25" font-size="13" fill="#e6e6ea" text-anchor="start" font-weight="normal" textLength="243.25" lengthAdjust="spacingAndGlyphs" >R802.3.1 OF THE 2018 NC RESIDENTIAL CODE.</text>
<text x="1872.5" y="869" font-size="13" fill="#e6e6ea" text-anchor="start" font-weight="normal" textLength="10" lengthAdjust="spacingAndGlyphs" >1.</text>
<text x="1872.5" y="897.5" font-size="13" fill="#e6e6ea" text-anchor="start" font-weight="normal" textLength="10" lengthAdjust="spacingAndGlyphs" >2.</text>
<text x="1872.5" y="940" font-size="13" fill="#e6e6ea" text-anchor="start" font-weight="normal" textLength="10" lengthAdjust="spacingAndGlyphs" >3.</text>
<text x="1872.5" y="982" font-size="13" fill="#e6e6ea" text-anchor="start" font-weight="normal" textLength="10" lengthAdjust="spacingAndGlyphs" >4.</text>
<text x="1872.5" y="1009.5" font-size="13" fill="#e6e6ea" text-anchor="start" font-weight="normal" textLength="10" lengthAdjust="spacingAndGlyphs" >5.</text>
<text x="1872.5" y="1038" font-size="13" fill="#e6e6ea" text-anchor="start" font-weight="normal" textLength="10" lengthAdjust="spacingAndGlyphs" >6.</text>
<text x="1872.5" y="1066" font-size="13" fill="#e6e6ea" text-anchor="start" font-weight="normal" textLength="10" lengthAdjust="spacingAndGlyphs" >7.</text>
<text x="1872.5" y="1093.75" font-size="13" fill="#e6e6ea" text-anchor="start" font-weight="normal" textLength="10" lengthAdjust="spacingAndGlyphs" >8.</text>
<circle cx="1874" cy="863.75" r="7.5" fill="none" stroke="#e6e6ea" stroke-width="1.1"/>
<circle cx="1876" cy="885" r="7.5" fill="none" stroke="#e6e6ea" stroke-width="1.1"/>
<circle cx="1876.5" cy="914" r="7.5" fill="none" stroke="#e6e6ea" stroke-width="1.1"/>
<circle cx="1877" cy="943" r="7.5" fill="none" stroke="#e6e6ea" stroke-width="1.1"/>
<circle cx="1877" cy="961" r="7.5" fill="none" stroke="#e6e6ea" stroke-width="1.1"/>
<circle cx="1876.5" cy="979" r="7.5" fill="none" stroke="#e6e6ea" stroke-width="1.1"/>
<circle cx="1876.5" cy="1000" r="7.5" fill="none" stroke="#e6e6ea" stroke-width="1.1"/>
<circle cx="1876.5" cy="1019" r="7.5" fill="none" stroke="#e6e6ea" stroke-width="1.1"/>
<circle cx="1875" cy="1117" r="2.6" fill="#e6e6ea"/>
<circle cx="1875" cy="1131" r="2.6" fill="#e6e6ea"/>
<circle cx="1875" cy="1145" r="2.6" fill="#e6e6ea"/>
<circle cx="1875" cy="1159" r="2.6" fill="#e6e6ea"/>
<circle cx="1875" cy="1173.75" r="2.6" fill="#e6e6ea"/>
<circle cx="1875" cy="1216.25" r="2.6" fill="#e6e6ea"/>
<circle cx="1875" cy="1258" r="2.6" fill="#e6e6ea"/>
<text x="1819" y="1569.7" font-size="38" fill="#c43ad6" text-anchor="start" font-weight="normal" textLength="350" lengthAdjust="spacingAndGlyphs" stroke="#24293b" stroke-width="0.8">ROOF FRAMING PLAN</text>
<line x1="1816.3" y1="1574" x2="2170" y2="1574" stroke="#c43ad6" stroke-width="1.8" />
<text x="1818" y="1587.8" font-size="12.5" fill="#c43ad6" text-anchor="start" font-weight="bold" textLength="173.7" lengthAdjust="spacingAndGlyphs" >SCALE: -------------1/4&quot; = 1'-0&quot;</text>
</svg></body></html>
